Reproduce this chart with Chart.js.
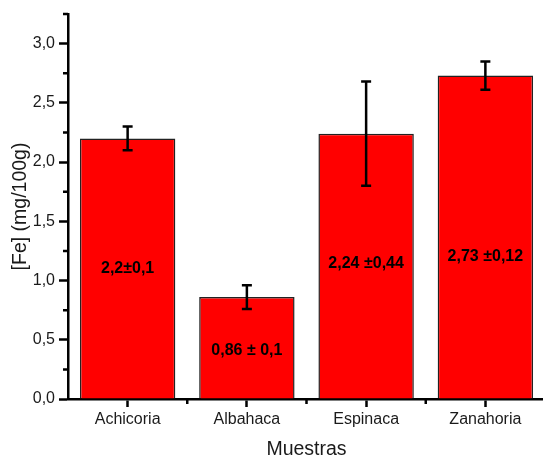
<!DOCTYPE html>
<html>
<head>
<meta charset="utf-8">
<script src="https://cdn.jsdelivr.net/npm/chart.js@4.4.1/dist/chart.umd.min.js"></script>
<style>
  html, body { margin: 0; padding: 0; overflow: hidden; background: #fff; }
  #wrap { width: 545px; height: 458px; }
</style>
</head>
<body>
<div id="wrap"><canvas id="c" width="545" height="458"></canvas></div>
<script>
// Iron content per sample (mg/100g), mean and standard deviation
const categories = ['Achicoria', 'Albahaca', 'Espinaca', 'Zanahoria'];
const ironMeans = [2.2, 0.86, 2.24, 2.73];
const ironSD = [0.1, 0.1, 0.44, 0.12];
const valueLabels = ['2,2±0,1', '0,86 ± 0,1', '2,24 ±0,44', '2,73 ±0,12'];
const yTickValues = [0, 0.5, 1.0, 1.5, 2.0, 2.5, 3.0];
const yMinorValues = [0.25, 0.75, 1.25, 1.75, 2.25, 2.75, 3.25];

const FONT = '"Liberation Sans", Arial, sans-serif';
const INK = '#1a1a1a';
const AXIS_W = 2.5;

const fmt = v => v.toFixed(1).replace('.', ',');

// Error bars, value captions, minor ticks and axis titles
const decorations = {
  id: 'decorations',
  afterDatasetsDraw(chart, args, opts) {
    const ctx = chart.ctx;
    const y = chart.scales.y;
    const meta = chart.getDatasetMeta(0);
    ctx.save();
    // error bars
    ctx.strokeStyle = '#000';
    ctx.lineWidth = 2.5;
    meta.data.forEach((bar, i) => {
      const x = bar.x;
      const yHi = y.getPixelForValue(ironMeans[i] + ironSD[i]);
      const yLo = y.getPixelForValue(ironMeans[i] - ironSD[i]);
      const cap = 5;
      ctx.beginPath();
      ctx.moveTo(x, yHi); ctx.lineTo(x, yLo);
      ctx.moveTo(x - cap, yHi); ctx.lineTo(x + cap, yHi);
      ctx.moveTo(x - cap, yLo); ctx.lineTo(x + cap, yLo);
      ctx.stroke();
    });
    // captions inside bars
    ctx.fillStyle = '#000';
    ctx.font = 'bold 16px ' + FONT;
    ctx.textAlign = 'center';
    ctx.textBaseline = 'middle';
    meta.data.forEach((bar, i) => {
      ctx.fillText(valueLabels[i], bar.x, y.getPixelForValue(opts.captionLevels[i]));
    });
    ctx.restore();
  },
  afterDraw(chart) {
    const ctx = chart.ctx;
    const { x, y } = chart.scales;
    const area = chart.chartArea;
    ctx.save();
    ctx.strokeStyle = '#000';
    ctx.lineWidth = AXIS_W;
    ctx.beginPath();
    // minor ticks on the value axis
    yMinorValues.forEach(v => {
      const py = y.getPixelForValue(v);
      ctx.moveTo(area.left, py); ctx.lineTo(area.left - 5, py);
    });
    // minor ticks between categories
    for (let i = 1; i <= categories.length; i++) {
      const px = area.left + (area.right - area.left) * i / categories.length;
      ctx.moveTo(px, area.bottom); ctx.lineTo(px, area.bottom + 5);
    }
    ctx.stroke();
    // axis titles
    ctx.fillStyle = INK;
    ctx.font = '19.5px ' + FONT;
    ctx.textAlign = 'center';
    ctx.textBaseline = 'alphabetic';
    ctx.fillText('Muestras', (area.left + area.right) / 2, 455);
    ctx.translate(25.5, (area.top + area.bottom) / 2);
    ctx.rotate(-Math.PI / 2);
    ctx.fillText('[Fe] (mg/100g)', 0, 0);
    ctx.restore();
  }
};

new Chart(document.getElementById('c'), {
  type: 'bar',
  data: {
    labels: categories,
    datasets: [{
      data: ironMeans,
      backgroundColor: '#ff0000',
      borderColor: '#222222',
      borderWidth: 1.5,
      barPercentage: 0.8,
      categoryPercentage: 1.0
    }]
  },
  options: {
    responsive: false,
    animation: false,
    devicePixelRatio: 1,
    layout: { padding: { top: 14, left: 0, right: 0, bottom: 0 } },
    plugins: {
      legend: { display: false },
      tooltip: { enabled: false },
      decorations: { captionLevels: [1.1, 0.41, 1.14, 1.2] }
    },
    scales: {
      x: {
        type: 'category',
        offset: true,
        grid: { offset: false, drawOnChartArea: false, drawTicks: true, tickLength: 8, tickWidth: AXIS_W, tickColor: '#000', color: '#000' },
        border: { display: true, color: '#000', width: AXIS_W },
        ticks: { color: INK, font: { family: FONT, size: 16 }, padding: 3, maxRotation: 0 },
        afterFit(scale) { scale.height = 59; }
      },
      y: {
        type: 'linear',
        min: 0,
        max: 3.25,
        afterBuildTicks(scale) { scale.ticks = yTickValues.map(v => ({ value: v })); },
        grid: { drawOnChartArea: false, drawTicks: true, tickLength: 9, tickWidth: AXIS_W, tickColor: '#000', color: '#000' },
        border: { display: true, color: '#000', width: AXIS_W },
        ticks: { color: INK, font: { family: FONT, size: 16 }, padding: 4, callback: v => fmt(v) },
        afterFit(scale) { scale.width = 68; }
      }
    }
  },
  plugins: [decorations]
});
</script>
</body>
</html>
